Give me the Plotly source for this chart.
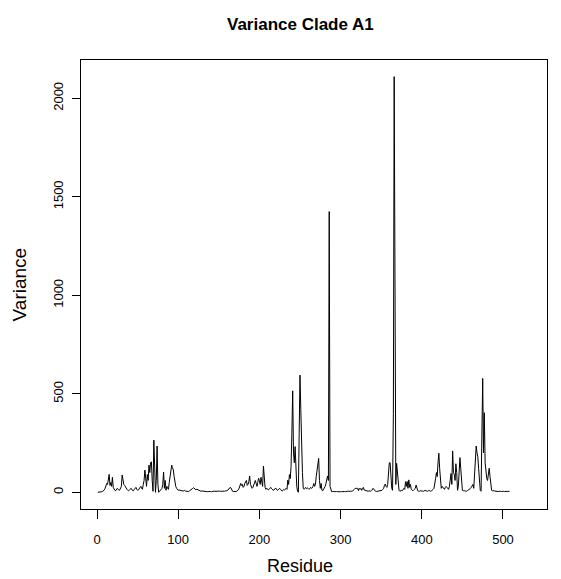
import plotly.graph_objects as go

# Variance per residue (residues 1..508)
variance = [
    0, 0, 1, 1, 2, 3, 5, 8, 12, 20,
    30, 45, 40, 60, 91, 35, 50, 30, 76, 25,
    15, 10, 8, 12, 20, 15, 10, 12, 18, 30,
    88, 50, 40, 35, 25, 20, 15, 10, 8, 12,
    15, 20, 12, 10, 8, 15, 20, 25, 15, 10,
    12, 18, 25, 30, 20, 15, 40, 60, 113, 60,
    30, 90, 60, 138, 100, 150, 155, 60, 5, 265,
    120, 0, 60, 235, 40, 0, 5, 10, 15, 20,
    40, 103, 20, 60, 10, 30, 20, 15, 50, 90,
    120, 138, 125, 113, 80, 50, 30, 20, 15, 10,
    12, 10, 8, 10, 8, 6, 8, 10, 6, 5,
    6, 5, 4, 8, 10, 12, 15, 20, 23, 18,
    15, 12, 16, 14, 10, 8, 6, 5, 7, 6,
    5, 4, 6, 5, 4, 3, 4, 5, 6, 4,
    3, 5, 4, 6, 5, 4, 3, 5, 6, 8,
    6, 5, 4, 5, 6, 4, 5, 7, 6, 8,
    10, 15, 20, 25, 22, 10, 5, 4, 3, 3,
    4, 5, 8, 12, 20, 30, 45, 35, 40, 25,
    30, 45, 50, 60, 35, 40, 55, 83, 40, 30,
    20, 25, 35, 40, 60, 45, 30, 50, 71, 60,
    40, 76, 50, 30, 133, 60, 25, 15, 20, 18,
    12, 15, 20, 25, 18, 15, 10, 12, 18, 22,
    15, 10, 12, 15, 20, 14, 8, 6, 10, 15,
    12, 15, 20, 15, 62, 40, 90, 70, 130, 300,
    515, 200, 150, 232, 120, 30, 5, 0, 300, 595,
    420, 190, 100, 20, 15, 20, 25, 18, 22, 20,
    15, 18, 25, 20, 22, 30, 45, 30, 40, 80,
    120, 150, 172, 60, 20, 45, 10, 8, 15, 20,
    30, 45, 60, 83, 60, 1425, 30, 5, 3, 4,
    5, 4, 3, 5, 4, 3, 4, 5, 4, 3,
    3, 4, 5, 6, 4, 3, 5, 4, 6, 5,
    4, 5, 6, 5, 8, 10, 15, 20, 18, 20,
    20, 8, 20, 15, 20, 10, 18, 25, 12, 10,
    8, 10, 6, 5, 8, 6, 5, 10, 12, 20,
    15, 6, 5, 4, 5, 6, 5, 8, 10, 8,
    10, 15, 20, 35, 42, 30, 25, 40, 90, 150,
    150, 80, 20, 10, 400, 2110, 1200, 40, 147, 100,
    20, 10, 5, 8, 10, 8, 12, 20, 15, 54,
    30, 55, 20, 63, 25, 40, 15, 10, 8, 12,
    15, 20, 37, 10, 8, 6, 5, 8, 6, 5,
    6, 5, 8, 10, 8, 6, 5, 8, 10, 6,
    5, 8, 10, 15, 20, 40, 70, 100, 80, 150,
    198, 120, 45, 20, 30, 25, 20, 15, 25, 30,
    25, 20, 15, 30, 60, 95, 40, 210, 100, 90,
    60, 145, 100, 10, 30, 80, 176, 120, 40, 10,
    8, 10, 8, 6, 5, 8, 10, 12, 15, 20,
    25, 30, 40, 20, 80, 150, 235, 200, 180, 120,
    60, 10, 5, 300, 578, 200, 404, 150, 80, 70,
    60, 90, 122, 80, 15, 10, 8, 10, 8, 6,
    5, 6, 5, 4, 5, 6, 5, 4, 5, 6,
    5, 4, 5, 6, 5, 4, 5, 5,
]
residues = list(range(1, len(variance) + 1))

x_ticks = [0, 100, 200, 300, 400, 500]
y_ticks = [0, 500, 1000, 1500, 2000]

title_text = "Variance Clade A1"
x_title = "Residue"
y_title = "Variance"

FONT = "Liberation Sans, Arial, Helvetica, sans-serif"

fig = go.Figure()
fig.add_trace(go.Scatter(
    x=residues, y=variance, mode="lines",
    line=dict(color="black", width=1),
    hoverinfo="x+y", showlegend=False,
))

fig.update_layout(
    width=561, height=579,
    margin=dict(l=81, r=14, t=60, b=70),
    paper_bgcolor="white", plot_bgcolor="white",
    font=dict(family=FONT, color="black", size=13),
    xaxis=dict(
        range=[-19.7, 554.2], tickmode="array", tickvals=x_ticks,
        ticktext=[str(v) for v in x_ticks],
        ticks="outside", ticklen=9, tickwidth=1, tickcolor="black",
        showline=True, linecolor="black", linewidth=1, mirror=True,
        showgrid=False, zeroline=False,
        tickfont=dict(size=13, family=FONT),
        ticklabelstandoff=9,
    ),
    yaxis=dict(
        range=[-84.8, 2194.4], tickmode="array", tickvals=y_ticks,
        ticktext=[str(v) for v in y_ticks],
        ticks="outside", ticklen=8, tickwidth=1, tickcolor="black",
        showline=True, linecolor="black", linewidth=1, mirror=True,
        showgrid=False, zeroline=False, tickangle=-90,
        tickfont=dict(size=13, family=FONT),
        ticklabelstandoff=4,
    ),
    annotations=[
        dict(text="<b>" + title_text + "</b>", xref="paper", yref="paper",
             x=0.47, y=1.080, xanchor="center", yanchor="middle",
             showarrow=False, font=dict(size=17, family=FONT)),
        dict(text=x_title, xref="paper", yref="paper",
             x=0.47, y=-0.1262, xanchor="center", yanchor="middle",
             showarrow=False, font=dict(size=18, family=FONT)),
        dict(text=y_title, xref="paper", yref="paper",
             x=-0.1311, y=0.5, xanchor="center", yanchor="middle",
             textangle=-90, showarrow=False, font=dict(size=19, family=FONT)),
    ],
)

fig.write_html("out.html", config={"displayModeBar": False},
               post_script="document.body.style.margin='0px';")
